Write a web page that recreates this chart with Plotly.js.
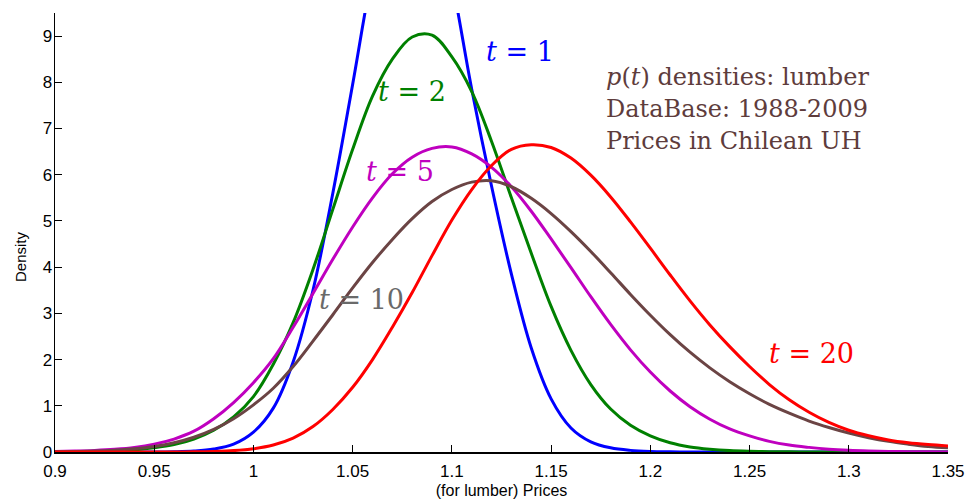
<!DOCTYPE html>
<html>
<head>
<meta charset="utf-8">
<script src="https://cdn.plot.ly/plotly-3.0.1.min.js"></script>
<style>html,body{margin:0;padding:0;background:#fff;}#chart{width:968px;height:502px;}</style>
</head>
<body>
<div id="chart"></div>
<script>
// Price grid (x) shared by all curves
const prices = [0.90,0.91,0.92,0.93,0.94,0.95,0.96,0.97,0.98,0.99,
                1.00,1.01,1.02,1.03,1.04,1.05,1.06,1.07,1.08,1.09,
                1.10,1.11,1.12,1.13,1.14,1.15,1.16,1.17,1.18,1.19,
                1.20,1.21,1.22,1.23,1.24,1.25,1.26,1.27,1.28,1.29,
                1.30,1.31,1.32,1.33,1.34,1.35];

// Density values
const density_t1 = [0,0,0,0,0,0,0.005,0.02,0.063,0.17,
                    0.43,0.95,1.95,3.5,5.6,7.96,10.37,12.13,12.75,12.05,
                    10.2,7.85,5.75,3.85,2.25,1.15,0.52,0.22,0.09,0.035,
                    0.012,0.004,0,0,0,0,0,0,0,0,
                    0,0,0,0,0,0];
const density_t2 = [0,0.003,0.008,0.02,0.045,0.09,0.16,0.28,0.47,0.76,
                    1.2,1.9,2.8,3.95,5.25,6.55,7.7,8.5,8.98,9.02,
                    8.55,7.8,6.72,5.5,4.3,3.15,2.2,1.46,0.93,0.58,
                    0.35,0.2,0.11,0.06,0.03,0.015,0.007,0.003,0,0,
                    0,0,0,0,0,0];
const density_t5 = [0.01,0.02,0.035,0.06,0.1,0.17,0.28,0.45,0.72,1.07,
                    1.5,2.02,2.7,3.43,4.17,4.87,5.5,6.02,6.38,6.57,
                    6.6,6.45,6.16,5.74,5.21,4.61,3.99,3.36,2.76,2.21,
                    1.73,1.32,0.98,0.71,0.5,0.35,0.23,0.15,0.1,0.062,
                    0.038,0.023,0.013,0.008,0.004,0.002];
const density_t10 = [0.005,0.01,0.02,0.04,0.07,0.12,0.2,0.32,0.49,0.72,
                     1.02,1.38,1.85,2.4,2.97,3.55,4.1,4.6,5.05,5.42,
                     5.68,5.84,5.87,5.74,5.49,5.16,4.77,4.34,3.88,3.41,
                     2.96,2.54,2.16,1.82,1.52,1.26,1.03,0.84,0.67,0.53,
                     0.41,0.31,0.23,0.17,0.12,0.09];
const density_t20 = [0,0,0,0,0,0,0.001,0.004,0.012,0.03,
                     0.07,0.15,0.3,0.55,0.92,1.4,2.0,2.7,3.45,4.25,
                     5.02,5.68,6.2,6.55,6.65,6.59,6.36,5.99,5.52,4.98,
                     4.41,3.83,3.27,2.75,2.28,1.85,1.46,1.13,0.86,0.64,
                     0.47,0.35,0.26,0.2,0.16,0.13];

const seriesNames = ["t = 1","t = 2","t = 5","t = 10","t = 20"];
const xTickVals = [0.9,0.95,1,1.05,1.1,1.15,1.2,1.25,1.3,1.35];
const xTickText = ["0.9","0.95","1","1.05","1.1","1.15","1.2","1.25","1.3","1.35"];
const yTickVals = [0,1,2,3,4,5,6,7,8,9];
const noteLines = ["<i>p</i>(<i>t</i>) densities: lumber","DataBase: 1988-2009","Prices in Chilean UH"];

const colors = ["#0000ff","#008000","#bf00bf","#6b4444","#ff0000"];
const ys = [density_t1,density_t2,density_t5,density_t10,density_t20];

const traces = ys.map((y,i)=>({
  x: prices, y: y, type: "scatter", mode: "lines", name: seriesNames[i],
  line: {color: colors[i], width: 3, shape: "spline", smoothing: 1},
  hoverinfo: "skip"
}));

const serif = "DejaVu Serif, Liberation Serif, serif";
const sans = "Liberation Sans, Arial, sans-serif";
function lab(txt, x, y, color){
  return {text: txt, x: x, y: y, xref: "x", yref: "y", showarrow: false,
          font: {family: serif, size: 27, color: color}, xanchor: "center", yanchor: "middle"};
}
const annotations = [
  lab("<i>t</i> = 1", 1.1343, 8.66, colors[0]),
  lab("<i>t</i> = 2", 1.0799, 7.81, colors[1]),
  lab("<i>t</i> = 5", 1.0739, 6.08, colors[2]),
  lab("<i>t</i> = 10", 1.0542, 3.29, "#6a6a6a"),
  lab("<i>t</i> = 20", 1.281, 2.14, colors[4])
];
const L=55, R=20, T=13, B=50, W=968, H=502;
const px2paperX = p => (p - L)/(W-L-R);
const px2paperY = p => 1 - (p - T)/(H-T-B);
noteLines.forEach((t,i)=>{
  annotations.push({text: t, x: px2paperX(604), y: px2paperY(77 + i*32), xref: "paper", yref: "paper", showarrow: false,
    font: {family: serif, size: 24, color: "#5e3c3c"}, xanchor: "left", yanchor: "middle"});
});
// y-axis title placed like the reference (centred lower than the plot middle)
annotations.push({text: "Density", x: px2paperX(20), y: px2paperY(257), xref: "paper", yref: "paper",
  showarrow: false, textangle: -90, font: {family: sans, size: 15, color: "#000"},
  xanchor: "center", yanchor: "middle"});

const axisFont = {family: sans, size: 17, color: "#000"};
const layout = {
  width: W, height: H,
  margin: {l: L, r: R, t: T, b: B},
  paper_bgcolor: "#fff", plot_bgcolor: "#fff",
  showlegend: false,
  xaxis: {
    range: [0.9, 1.35], tickvals: xTickVals, ticktext: xTickText,
    ticks: "inside", ticklen: 7, tickwidth: 1, tickcolor: "#000",
    showline: true, linecolor: "#000", linewidth: 1.5, mirror: false,
    showgrid: false, zeroline: false, tickfont: axisFont,
    ticklabelstandoff: 3,
    title: {text: "(for lumber) Prices", font: {family: sans, size: 16, color: "#000"}, standoff: 5}
  },
  yaxis: {
    range: [0, 9.5], tickvals: yTickVals,
    ticks: "inside", ticklen: 7, tickwidth: 1, tickcolor: "#000",
    showline: true, linecolor: "#000", linewidth: 1.5, mirror: false,
    showgrid: false, zeroline: false, tickfont: axisFont,
    ticklabelstandoff: -2
  },
  annotations: annotations
};
Plotly.newPlot("chart", traces, layout, {staticPlot: true, displayModeBar: false});
</script>
</body>
</html>
